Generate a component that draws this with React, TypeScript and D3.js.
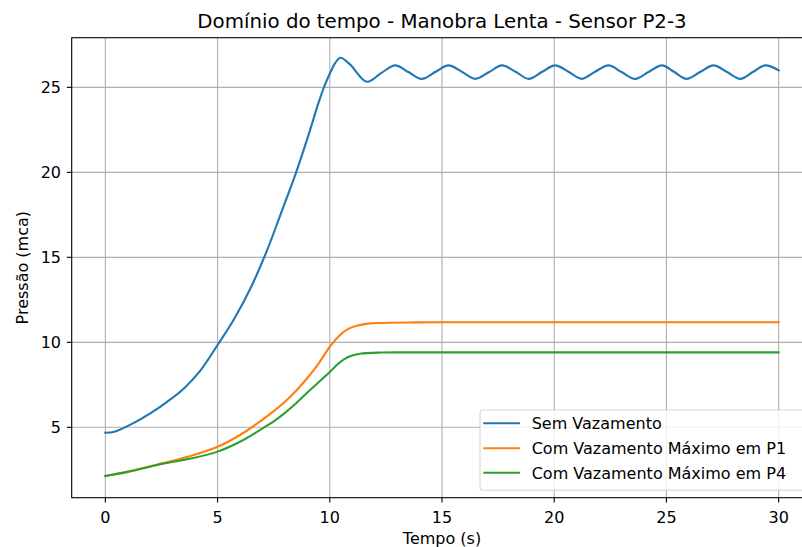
import React from "react";
import * as d3 from "d3";

const titleText = "Domínio do tempo - Manobra Lenta - Sensor P2-3";
const xLabel = "Tempo (s)";
const yLabel = "Pressão (mca)";
const xTicks = [0, 5, 10, 15, 20, 25, 30];
const yTicks = [5, 10, 15, 20, 25];
const seriesNames = ["Sem Vazamento", "Com Vazamento Máximo em P1", "Com Vazamento Máximo em P4"];
const seriesColors = ["#1f77b4", "#ff7f0e", "#2ca02c"];

const tBlue = [0, 0.4, 1.25, 2, 2.75, 3.5, 4.25, 5, 5.75, 6.5, 7.2, 7.8, 8.5, 9.1, 9.5, 9.8, 10.05, 10.25, 10.47, 10.9, 11.65, 12.3, 12.92, 13.5, 14.1, 14.7, 15.29, 15.9, 16.48, 17.1, 17.67, 18.3, 18.86, 19.45, 20.04, 20.65, 21.23, 21.8, 22.42, 23.0, 23.61, 24.2, 24.8, 25.35, 25.9, 26.5, 27.1, 27.7, 28.29, 28.85, 29.4, 30];
const vBlue = [4.68, 4.74, 5.25, 5.82, 6.5, 7.29, 8.37, 9.84, 11.4, 13.27, 15.4, 17.5, 20.0, 22.4, 24.1, 25.2, 25.95, 26.45, 26.74, 26.35, 25.33, 25.85, 26.29, 25.9, 25.5, 25.9, 26.29, 25.9, 25.5, 25.9, 26.29, 25.9, 25.5, 25.9, 26.29, 25.9, 25.5, 25.9, 26.29, 25.9, 25.5, 25.9, 26.29, 25.9, 25.5, 25.9, 26.29, 25.9, 25.5, 25.9, 26.29, 26.0];

const tOrange = [0, 1, 2.5, 3.75, 5, 6, 6.9, 7.5, 8, 8.5, 9, 9.5, 10, 10.47, 10.8, 11.2, 11.7, 12.25, 13.5, 15, 20, 25, 30];
const vOrange = [2.14, 2.4, 2.88, 3.3, 3.86, 4.55, 5.35, 5.95, 6.5, 7.15, 7.9, 8.75, 9.74, 10.45, 10.78, 10.98, 11.1, 11.14, 11.17, 11.18, 11.18, 11.18, 11.18];

const tGreen = [0, 1, 2.5, 3.75, 5, 6, 6.9, 7.5, 8, 8.5, 9, 9.5, 10, 10.3, 10.63, 11, 11.35, 12.25, 13.5, 15, 20, 25, 30];
const vGreen = [2.14, 2.38, 2.84, 3.15, 3.57, 4.15, 4.85, 5.35, 5.85, 6.42, 7.05, 7.65, 8.25, 8.65, 9.0, 9.22, 9.33, 9.4, 9.41, 9.41, 9.41, 9.41, 9.41];

const W = 802;
const H = 547;
const left = 71.7;
const top = 37.7;
const bottom = 497.7;
const pxPerX = 22.443;
const right = left + 33 * pxPerX;
const font = "'DejaVu Sans', sans-serif";
const fs = 16;

export default function App() {
  const x = d3.scaleLinear().domain([-1.5, 31.5]).range([left, right]);
  const y = d3.scaleLinear().domain([0.86, 27.92]).range([bottom, top]);
  const line = d3
    .line<[number, number]>()
    .x((d) => x(d[0]))
    .y((d) => y(d[1]))
    .curve(d3.curveCatmullRom.alpha(0.5));
  const series: [number, number][][] = [
    tBlue.map((t, i) => [t, vBlue[i]] as [number, number]),
    tOrange.map((t, i) => [t, vOrange[i]] as [number, number]),
    tGreen.map((t, i) => [t, vGreen[i]] as [number, number]),
  ];
  const cx = (left + right) / 2;
  const cy = (top + bottom) / 2;
  const legX = 480;
  const legY = 410;
  const legRight = right - 6.9;
  const legBottom = bottom - 7.5;
  const rowY = [423.3, 448.3, 472.7];

  return (
    <svg
      width={W}
      height={H}
      style={{ position: "absolute", left: 0, top: 0, background: "#fff" }}
      fontFamily={font}
    >
      <rect x={0} y={0} width={W} height={H} fill="#fff" />
      {xTicks.map((t) => (
        <line key={"gx" + t} x1={x(t)} x2={x(t)} y1={top} y2={bottom} stroke="#b0b0b0" strokeWidth={1.1} />
      ))}
      {yTicks.map((t) => (
        <line key={"gy" + t} x1={left} x2={right} y1={y(t)} y2={y(t)} stroke="#b0b0b0" strokeWidth={1.1} />
      ))}
      {series.map((s, i) => (
        <path key={"s" + i} d={line(s) || ""} fill="none" stroke={seriesColors[i]} strokeWidth={2.1} strokeLinejoin="round" strokeLinecap="square" />
      ))}
      <rect x={left} y={top} width={right - left} height={bottom - top} fill="none" stroke="#000" strokeWidth={1.1} />
      {xTicks.map((t) => (
        <g key={"tx" + t}>
          <line x1={x(t)} x2={x(t)} y1={bottom} y2={bottom + 4.9} stroke="#000" strokeWidth={1.1} />
          <text x={x(t)} y={522.5} textAnchor="middle" fontSize={fs} fill="#000">
            {t}
          </text>
        </g>
      ))}
      {yTicks.map((t) => (
        <g key={"ty" + t}>
          <line x1={left - 4.9} x2={left} y1={y(t)} y2={y(t)} stroke="#000" strokeWidth={1.1} />
          <text x={61} y={y(t) + 5.8} textAnchor="end" fontSize={fs} fill="#000">
            {t}
          </text>
        </g>
      ))}
      <text x={cx} y={28} textAnchor="middle" fontSize={19.8} fill="#000">
        {titleText}
      </text>
      <text x={cx} y={544} textAnchor="middle" fontSize={fs} fill="#000">
        {xLabel}
      </text>
      <text transform={`translate(27.5, ${cy}) rotate(-90)`} textAnchor="middle" fontSize={fs} fill="#000">
        {yLabel}
      </text>
      <rect
        x={legX}
        y={legY}
        width={legRight - legX}
        height={legBottom - legY}
        rx={2.8}
        ry={2.8}
        fill="#fff"
        fillOpacity={0.8}
        stroke="#cccccc"
        strokeOpacity={0.8}
        strokeWidth={1.1}
      />
      {seriesNames.map((n, i) => (
        <g key={"l" + i}>
          <line x1={483.3} x2={520} y1={rowY[i]} y2={rowY[i]} stroke={seriesColors[i]} strokeWidth={2.1} />
          <text x={531.7} y={rowY[i] + 5.8} fontSize={fs} fill="#000">
            {n}
          </text>
        </g>
      ))}
    </svg>
  );
}
